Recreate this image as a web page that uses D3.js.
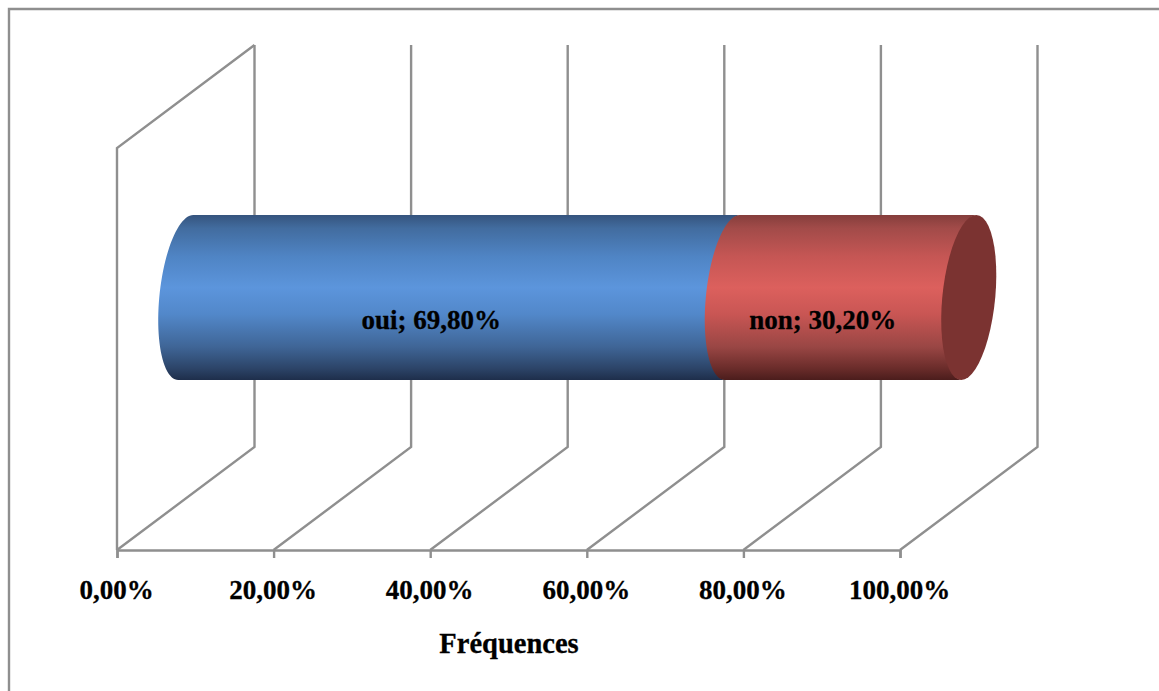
<!DOCTYPE html>
<html lang="fr">
<head>
<meta charset="utf-8">
<title>Fréquences</title>
<script src="https://cdn.jsdelivr.net/npm/d3@7"></script>
<style>
  html, body { margin: 0; padding: 0; background: #fff; }
  svg { display: block; }
  text { font-family: "Liberation Serif", "Times New Roman", serif; font-weight: bold; font-size: 27px; fill: #000; stroke: #000; stroke-width: 0.3px; }
  text.title { font-size: 28.5px; }
</style>
</head>
<body>
<svg id="chart" width="1159" height="691"></svg>
<script>
// Stacked 3D cylinder: share of answers
const categories = ["oui", "non"];
const frequencies = [69.8, 30.2];
const tickValues = [0, 20, 40, 60, 80, 100];
const axisTitle = "Fréquences";

// Colour ramps running down the cylinder, plus the shade of the end cap
const rampOffsets = [0, 0.08, 0.25, 0.44, 0.6, 0.8, 0.93, 1];
const blueRamp = ["#35547e", "#426c9f", "#4f84c4", "#5c95dc", "#5288ca", "#3f6596", "#2c4468", "#1e2e4b"];
const redRamp = ["#853e3c", "#a24b49", "#c55654", "#dc605d", "#c95654", "#994644", "#6a2c2a", "#4b1d1c"];
const capColour = "#7b3331";
const lineColour = "#8f8f8f";
const lineWidth = 2.4;

const svg = d3.select("#chart");
const x = d3.scaleLinear().domain([0, 100]).range([117, 900]);

// Floor and wall layout of the 3D box
const floorY = 550, wallTopY = 148;
const depthX = 137.5, depthY = 103;

// Cylinder layout: vertical extent and the skewed ellipse of its cross-section
const barTop = 215, barBottom = 380;
const barMidY = (barTop + barBottom) / 2;
const radiusY = (barBottom - barTop) / 2;
const radiusX = 26.5, skewX = 7.5;
const axisShift = depthX / 2;
// Each segment runs slightly under the next one so no seam shows between them
const seamOverlap = 0.15;

const outerFrame = d3.path();
outerFrame.moveTo(1159, 9);
outerFrame.lineTo(9, 9);
outerFrame.lineTo(9, 691);
svg.append("path").attr("d", outerFrame.toString())
  .attr("fill", "none").attr("stroke", lineColour).attr("stroke-width", lineWidth);

// Gridlines on the floor and back wall
const walls = svg.append("g").attr("fill", "none")
  .attr("stroke", lineColour).attr("stroke-width", lineWidth).attr("stroke-linejoin", "miter");
const wallLine = d3.line();
walls.selectAll("path.grid").data(tickValues).join("path")
  .attr("class", "grid")
  .attr("d", d => wallLine([
    [x(d), floorY],
    [x(d) + depthX, floorY - depthY],
    [x(d) + depthX, wallTopY - depthY]
  ]));
walls.append("path").attr("d", wallLine([
  [x(0), floorY],
  [x(0), wallTopY],
  [x(0) + depthX, wallTopY - depthY]
]));

// Point on the cross-section ellipse centred on the axis at value v
const ellipsePoint = (v, t) => [
  x(v) + axisShift + radiusX * Math.cos(t) + skewX * Math.sin(t),
  barMidY - radiusY * Math.sin(t)
];
const steps = d3.range(0, 49).map(i => i / 48);
// Left half of the ellipse, from the top of the cylinder to the bottom
const leftArc = v => steps.map(s => ellipsePoint(v, Math.PI / 2 + s * Math.PI));
const fullEllipse = v => steps.map(s => ellipsePoint(v, s * 2 * Math.PI));

const defs = svg.append("defs");
const addRamp = (id, colours) => {
  const g = defs.append("linearGradient").attr("id", id)
    .attr("gradientUnits", "userSpaceOnUse")
    .attr("x1", 0).attr("x2", 0).attr("y1", barTop).attr("y2", barBottom);
  g.selectAll("stop").data(colours).join("stop")
    .attr("offset", (d, i) => rampOffsets[i])
    .attr("stop-color", d => d);
};
addRamp("ramp-oui", blueRamp);
addRamp("ramp-non", redRamp);

// Stack the segments along the axis
let running = 0;
const segments = categories.map((name, i) => {
  const start = running;
  running += frequencies[i];
  return { name, value: frequencies[i], start, end: running, fill: `url(#ramp-${name})` };
});

const outline = d3.line();
svg.append("g").selectAll("path").data(segments).join("path")
  .attr("d", d => outline([...leftArc(d.start), ...leftArc(d.end + seamOverlap).reverse()]) + "Z")
  .attr("fill", d => d.fill);

// End cap of the last segment
svg.append("path")
  .attr("d", outline(fullEllipse(running)) + "Z")
  .attr("fill", capColour);

// Value labels
const labelFormat = v => v.toFixed(2).replace(".", ",") + "%";
svg.append("g").selectAll("text").data(segments).join("text")
  .attr("x", d => x((d.start + d.end) / 2) + 41)
  .attr("y", 329)
  .attr("text-anchor", "middle")
  .text(d => `${d.name}; ${labelFormat(d.value)}`);

// Horizontal axis
const axis = d3.axisBottom(x).tickValues(tickValues).tickSize(8).tickPadding(22).tickFormat(labelFormat);
const axisG = svg.append("g").attr("transform", `translate(0,${floorY})`).call(axis);
axisG.select(".domain").attr("stroke", lineColour).attr("stroke-width", lineWidth);
axisG.selectAll(".tick line").attr("stroke", lineColour).attr("stroke-width", lineWidth);
axisG.selectAll(".tick text").attr("dx", "-1");
axisG.attr("font-family", null).attr("font-size", null);

svg.append("text")
  .attr("class", "title")
  .attr("x", 509).attr("y", 653)
  .attr("text-anchor", "middle")
  .text(axisTitle);
</script>
</body>
</html>
